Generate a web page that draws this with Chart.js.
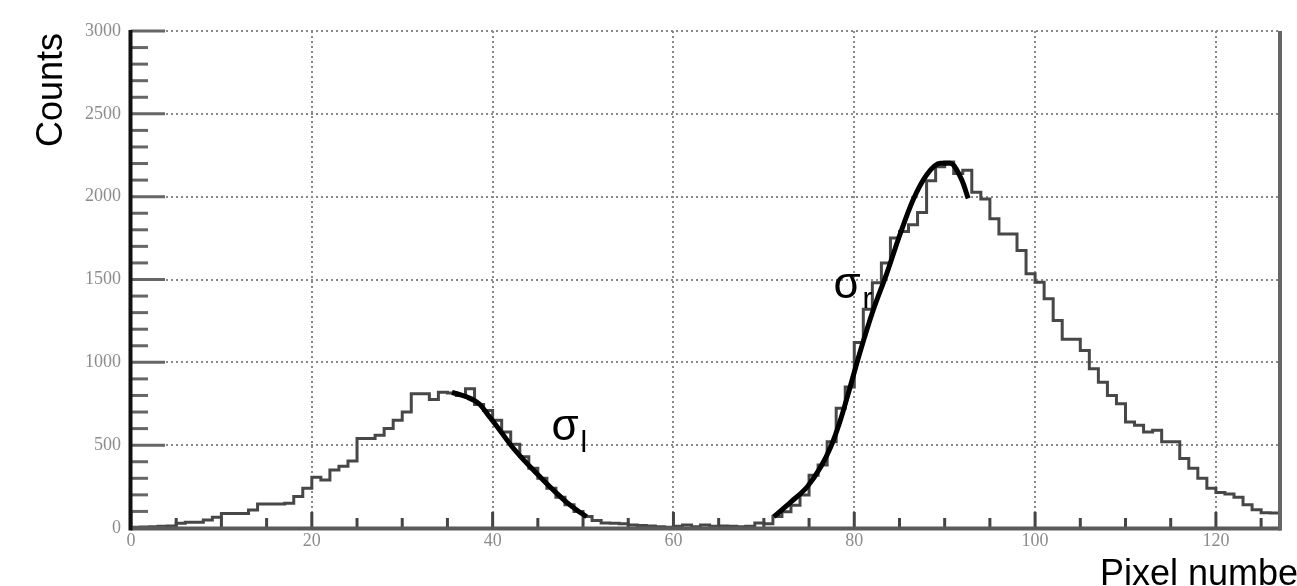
<!DOCTYPE html>
<html><head><meta charset="utf-8">
<script src="https://cdn.jsdelivr.net/npm/chart.js@4/dist/chart.umd.min.js"></script>
<style>html,body{margin:0;padding:0;background:#fff;}canvas{display:block;}</style>
</head><body>
<canvas id="c" width="1297" height="586"></canvas>
<script>
// Histogram: counts per pixel bin (bin i spans [i, i+1])
const counts = [5,6,8,10,12,28,35,35,48,65,
 88,88,88,108,145,145,145,150,190,240,
 307,290,350,372,405,540,540,560,600,650,
 700,810,810,775,820,815,800,840,745,710,
 650,580,505,430,360,300,240,185,140,100,
 70,45,30,28,26,18,15,12,8,5,
 10,18,8,18,10,12,10,8,10,30,
 25,70,98,138,199,319,380,520,723,851,
 1120,1320,1480,1600,1750,1790,1830,1905,2096,2180,
 2210,2140,2160,2026,1986,1866,1775,1775,1675,1534,
 1484,1384,1253,1140,1140,1072,962,880,800,750,
 640,620,580,590,520,520,420,360,300,240,
 215,205,185,140,110,92,90];
// Fit curves
const fitLeftX  = [35.5, 37.1, 38.5, 39.7, 41.0, 42.0, 43.2, 44.5, 45.8, 47.1, 48.2, 49.3, 50.4];
const fitLeftY  = [818, 792, 750, 668, 575, 501, 425, 350, 278, 209, 155, 109, 68];
const fitRightX = [71.1, 73.0, 74.8, 76.3, 77.4, 78.4, 79.3, 80.6, 82.1, 83.6, 85.1, 86.5, 88.0, 89.5, 90.6, 91.9, 92.6];
const fitRightY = [68, 158, 249, 369, 490, 640, 805, 1055, 1316, 1537, 1779, 1980, 2131, 2201, 2201, 2100, 1990];
// Tick labels
const xTicks = [0, 20, 40, 60, 80, 100, 120];
const yTicks = [0, 500, 1000, 1500, 2000, 2500, 3000];
const xTitle = 'Pixel number';
const yTitle = 'Counts';

const histPts = counts.map((v, i) => ({x: i, y: v}));
histPts.push({x: counts.length, y: counts[counts.length - 1]});
histPts.push({x: counts.length + 1, y: counts[counts.length - 1]});
const fitL = fitLeftX.map((x, i) => ({x, y: fitLeftY[i]}));
const fitR = fitRightX.map((x, i) => ({x, y: fitRightY[i]}));

const tickFont = {family: 'Liberation Serif', size: 18};
const frame = {
  id: 'frame',
  afterDatasetsDraw(chart) {
    const {ctx, chartArea: a, scales: {x, y}} = chart;
    ctx.save();
    ctx.lineCap = 'butt';
    // y ticks (inward)
    ctx.strokeStyle = '#666';
    ctx.lineWidth = 3;
    for (let v = 0; v <= 3000; v += 100) {
      const py = y.getPixelForValue(v);
      const len = (v % 500 === 0) ? 34 : 17;
      ctx.beginPath(); ctx.moveTo(a.left, py); ctx.lineTo(a.left + len, py); ctx.stroke();
    }
    // x ticks (inward)
    ctx.strokeStyle = '#444';
    for (let v = 0; v <= 125; v += 5) {
      const px = x.getPixelForValue(v);
      const len = (v % 20 === 0) ? 16 : 10;
      ctx.beginPath(); ctx.moveTo(px, a.bottom); ctx.lineTo(px, a.bottom - len); ctx.stroke();
    }
    // frame lines
    ctx.lineWidth = 4;
    ctx.strokeStyle = '#5a5a5a';
    ctx.beginPath(); ctx.moveTo(a.left, a.bottom + 0.5); ctx.lineTo(a.right, a.bottom + 0.5); ctx.stroke();
    ctx.strokeStyle = '#666';
    ctx.beginPath(); ctx.moveTo(a.right - 1, a.top); ctx.lineTo(a.right - 1, a.bottom + 2.5); ctx.stroke();
    ctx.strokeStyle = '#111';
    ctx.beginPath(); ctx.moveTo(a.left - 0.5, a.top - 1); ctx.lineTo(a.left - 0.5, a.bottom + 2.5); ctx.stroke();
    ctx.restore();
  },
  afterDraw(chart) {
    const {ctx, scales: {x, y}} = chart;
    ctx.save();
    ctx.fillStyle = '#000';
    ctx.textBaseline = 'alphabetic';
    ctx.textAlign = 'left';
    ctx.font = '36px "Liberation Sans", Arial, sans-serif';
    ctx.fillText(xTitle, 1100, 585);
    ctx.save();
    ctx.translate(62, 147);
    ctx.rotate(-Math.PI / 2);
    ctx.fillText(yTitle, 0, 0);
    ctx.restore();
    // sigma annotations
    const sl = [x.getPixelForValue(46.5), y.getPixelForValue(530)];
    ctx.font = '44px "Liberation Sans", Arial, sans-serif';
    ctx.fillText('σ', sl[0], sl[1]);
    ctx.font = '30px "Liberation Sans", Arial, sans-serif';
    ctx.fillText('l', sl[0] + 29, sl[1] + 12);
    const sr = [x.getPixelForValue(77.7), y.getPixelForValue(1390)];
    ctx.font = '44px "Liberation Sans", Arial, sans-serif';
    ctx.fillText('σ', sr[0], sr[1]);
    ctx.font = '30px "Liberation Sans", Arial, sans-serif';
    ctx.fillText('r', sr[0] + 29, sr[1] + 10);
    ctx.restore();
  }
};

new Chart(document.getElementById('c'), {
  type: 'line',
  data: {
    datasets: [
      {data: fitL, borderColor: '#000', borderWidth: 5, pointRadius: 0, cubicInterpolationMode: 'monotone', fill: false},
      {data: fitR, borderColor: '#000', borderWidth: 5, pointRadius: 0, cubicInterpolationMode: 'monotone', fill: false},
      {data: histPts, borderColor: '#474747', borderWidth: 3, pointRadius: 0, stepped: 'before', fill: false}
    ]
  },
  options: {
    responsive: false,
    animation: false,
    devicePixelRatio: 1,
    layout: {padding: {top: 31, right: 16, left: 0, bottom: 0}},
    plugins: {legend: {display: false}, tooltip: {enabled: false}},
    scales: {
      x: {
        type: 'linear', min: 0, max: 127.2,
        afterFit: s => { s.height = 58; },
        afterBuildTicks: s => { s.ticks = xTicks.map(v => ({value: v})); },
        ticks: {autoSkip: false, maxRotation: 0, padding: 2, color: '#8c8c8c', font: tickFont, callback: v => String(v)},
        grid: {color: '#888', lineWidth: 2, drawTicks: false},
        border: {display: false, dash: [2, 3]}
      },
      y: {
        min: 0, max: 3000,
        afterFit: s => { s.width = 131; },
        afterBuildTicks: s => { s.ticks = yTicks.map(v => ({value: v})); },
        ticks: {padding: 10, color: '#8c8c8c', font: tickFont, callback: v => String(v)},
        grid: {color: '#888', lineWidth: 2, drawTicks: false},
        border: {display: false, dash: [2, 3]}
      }
    }
  },
  plugins: [frame]
});
</script>
</body></html>
